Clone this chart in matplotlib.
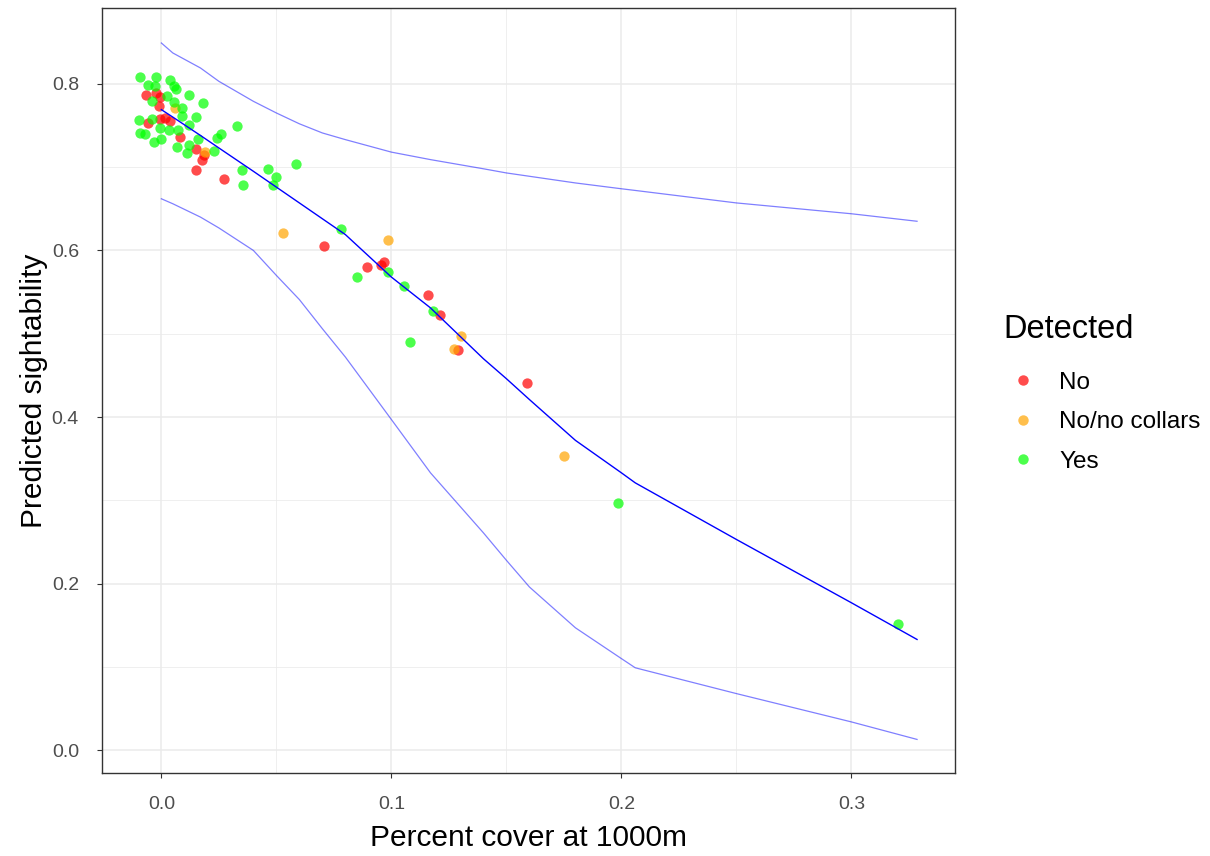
import matplotlib
matplotlib.use("Agg")
import matplotlib.pyplot as plt
from matplotlib.lines import Line2D
from matplotlib.ticker import MultipleLocator

plt.rcParams['font.family'] = ['Liberation Sans', 'DejaVu Sans']

# Observed points by detection status
x_no = [-0.0067, -0.0022, -0.0004, -0.0009, -0.0004, 0.0018, 0.0039, -0.0059,
        0.0083, 0.0149, 0.0185, 0.0175, 0.0152, 0.0273, 0.0707, 0.0894,
        0.0954, 0.0970, 0.1160, 0.1213, 0.1290, 0.1590]
y_no = [0.786, 0.789, 0.784, 0.773, 0.758, 0.759, 0.755, 0.753,
        0.736, 0.722, 0.715, 0.708, 0.696, 0.686, 0.605, 0.580,
        0.582, 0.586, 0.546, 0.523, 0.480, 0.441]

x_nocollar = [0.0061, 0.0190, 0.0530, 0.0984, 0.1304, 0.1272, 0.1750]
y_nocollar = [0.771, 0.718, 0.621, 0.613, 0.497, 0.482, 0.353]

x_yes = [-0.0092, -0.0024, 0.0039, -0.0059, -0.0029, 0.0054, 0.0064, 0.0025,
         0.0120, -0.0041, 0.0181, 0.0054, 0.0090, 0.0149, -0.0099, -0.0041,
         0.0090, 0.0327, 0.0120, -0.0004, 0.0032, -0.0092, -0.0070, 0.0073,
         0.0258, 0.0244, 0.0159, -0.0034, -0.0002, 0.0068, 0.0120, 0.0112,
         0.0229, 0.0463, 0.0584, 0.0499, 0.0350, 0.0356, 0.0484, 0.0781,
         0.0850, 0.0984, 0.1054, 0.1083, 0.1181, 0.1986, 0.3203]
y_yes = [0.808, 0.808, 0.805, 0.799, 0.797, 0.797, 0.794, 0.785,
         0.786, 0.779, 0.777, 0.778, 0.771, 0.760, 0.756, 0.758,
         0.761, 0.749, 0.751, 0.747, 0.745, 0.741, 0.740, 0.745,
         0.740, 0.735, 0.734, 0.730, 0.734, 0.724, 0.727, 0.717,
         0.719, 0.698, 0.704, 0.688, 0.696, 0.678, 0.679, 0.626,
         0.568, 0.574, 0.557, 0.490, 0.527, 0.297, 0.151]

# Fitted sightability curve with confidence bounds
x_fit = [0.0, 0.005, 0.017, 0.025, 0.04, 0.05, 0.06, 0.07, 0.08, 0.1,
         0.117, 0.14, 0.15, 0.16, 0.18, 0.2, 0.206, 0.25, 0.3, 0.3285]
y_fit = [0.769, 0.760, 0.738, 0.723, 0.695, 0.676, 0.657, 0.638, 0.619, 0.568,
         0.531, 0.470, 0.446, 0.421, 0.372, 0.333, 0.321, 0.253, 0.177, 0.133]
y_upper = [0.849, 0.837, 0.819, 0.803, 0.779, 0.765, 0.752, 0.741, 0.733, 0.718,
           0.709, 0.698, 0.693, 0.689, 0.681, 0.674, 0.672, 0.657, 0.644, 0.635]
y_lower = [0.662, 0.656, 0.640, 0.627, 0.600, 0.570, 0.541, 0.506, 0.472, 0.397,
           0.333, 0.261, 0.228, 0.196, 0.147, 0.110, 0.099, 0.068, 0.034, 0.013]

groups = [("No", x_no, y_no, "#FF0000"),
          ("No/no collars", x_nocollar, y_nocollar, "#FFA500"),
          ("Yes", x_yes, y_yes, "#00FF00")]

fig = plt.figure(figsize=(12.1, 8.56), dpi=100)
ax = fig.add_axes([102 / 1210, 1 - 773 / 856, (955 - 102) / 1210, (773 - 8) / 856])

for label, xs, ys, col in groups:
    ax.scatter(xs, ys, s=55, color=col, alpha=0.7, linewidths=0, zorder=3)

ax.plot(x_fit, y_upper, color="#0000FF", alpha=0.5, lw=0.9, zorder=4)
ax.plot(x_fit, y_lower, color="#0000FF", alpha=0.5, lw=0.9, zorder=4)
ax.plot(x_fit, y_fit, color="#0000FF", lw=1.0, zorder=5)

ax.set_xlim(-0.0258, 0.3450)
ax.set_ylim(-0.0273, 0.891)

ax.xaxis.set_major_locator(MultipleLocator(0.1))
ax.xaxis.set_minor_locator(MultipleLocator(0.05))
ax.yaxis.set_major_locator(MultipleLocator(0.2))
ax.yaxis.set_minor_locator(MultipleLocator(0.1))
ax.xaxis.set_major_formatter(plt.FuncFormatter(lambda v, p: f"{v:.1f}"))
ax.yaxis.set_major_formatter(plt.FuncFormatter(lambda v, p: f"{v:.1f}"))

ax.grid(which="major", color="#EBEBEB", lw=1.1, zorder=0)
ax.grid(which="minor", color="#EBEBEB", lw=0.55, zorder=0)
ax.set_axisbelow(True)
ax.tick_params(which="minor", length=0)
ax.tick_params(which="major", length=3.6, width=0.8, color="#333333",
               labelcolor="#4D4D4D", labelsize=14)
ax.tick_params(axis="x", pad=13)
ax.tick_params(axis="y", pad=13)
for sp in ax.spines.values():
    sp.set_color("#333333")
    sp.set_linewidth(1.0)

ax.set_xlabel("Percent cover at 1000m", fontsize=21.5, color="black", labelpad=8)
ax.set_ylabel("Predicted sightability", fontsize=21.5, color="black", labelpad=3)

handles = [Line2D([], [], marker="o", linestyle="", markersize=7.5,
                  markerfacecolor=col, markeredgewidth=0, alpha=0.7, label=label)
           for label, _, _, col in groups]
leg = fig.legend(handles=handles, title="Detected", loc="upper left",
                 bbox_to_anchor=(991 / 1210, 1 - 302 / 856), frameon=False,
                 fontsize=17.5, title_fontsize=23.5, alignment="left",
                 borderpad=0, handletextpad=0.7, labelspacing=0.72,
                 handlelength=1.6)
# extra room between the legend title and its entries
leg._legend_box.sep = 19

fig.savefig("out.png", dpi=100)
